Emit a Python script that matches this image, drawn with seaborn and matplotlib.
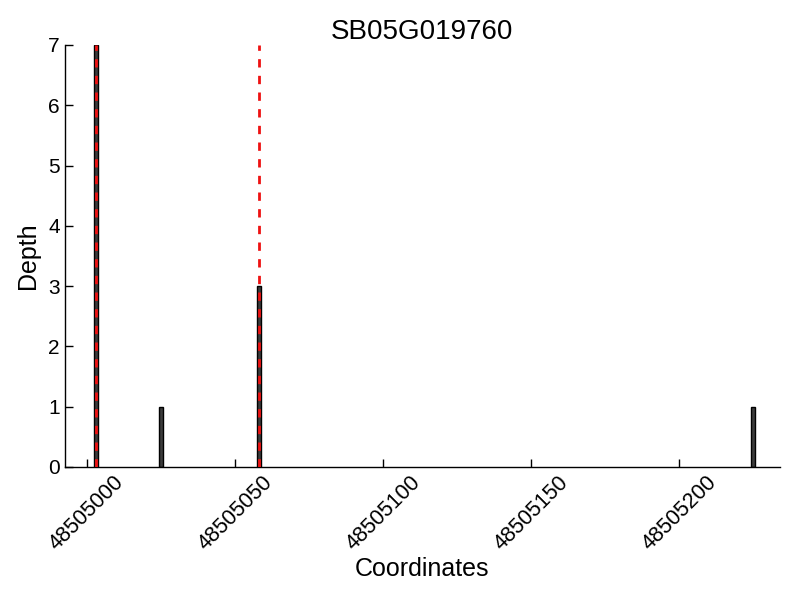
import matplotlib
matplotlib.use("Agg")
import matplotlib.pyplot as plt
import seaborn as sns
import pandas as pd

coords = [48505003, 48505025, 48505058, 48505225]
depth = [7, 1, 3, 1]
marked_sites = [48505003, 48505058]
title = "SB05G019760"
xtick_values = [48505000, 48505050, 48505100, 48505150, 48505200]

sns.set_style("white")
plt.rcParams['font.family'] = ['Liberation Sans', 'DejaVu Sans']
plt.rcParams['text.color'] = 'black'
plt.rcParams['axes.labelcolor'] = 'black'
plt.rcParams['xtick.color'] = 'black'
plt.rcParams['ytick.color'] = 'black'

fig = plt.figure(figsize=(8, 6), dpi=100)
ax = fig.add_axes([0.081, 0.222, 0.894, 0.703])

df = pd.DataFrame({"Coordinates": coords, "Depth": depth})
sc = sorted(coords)
min_gap = min(b - a for a, b in zip(sc, sc[1:]))
sns.barplot(data=df, x="Coordinates", y="Depth", native_scale=True,
            width=1.3 / min_gap, color="#3c3c3c", edgecolor="black",
            linewidth=1, saturation=1, ax=ax)

for s in marked_sites:
    ax.axvline(s, color="#ee1111", linestyle=(0, (3, 3)), linewidth=2, zorder=5)

ax.set_xlim(48504992.5, 48505234)
ax.set_ylim(0, 7)
ax.set_xticks(xtick_values)
ax.set_xticklabels([str(t) for t in xtick_values], rotation=45, ha="center",
                   fontsize=15.5)
ax.set_yticks(range(0, 8))
ax.tick_params(axis="y", labelsize=15)
ax.tick_params(direction="in", length=6, width=1, colors="black", bottom=True, left=True)
ax.set_xlabel("Coordinates", fontsize=18, labelpad=2)
ax.set_ylabel("Depth", fontsize=18, labelpad=6)
ax.set_title(title, fontsize=20, color="black", pad=4)
for sp in ["top", "right"]:
    ax.spines[sp].set_visible(False)
for sp in ["left", "bottom"]:
    ax.spines[sp].set_color("black")
    ax.spines[sp].set_linewidth(1)

fig.savefig("out.png", dpi=100)
